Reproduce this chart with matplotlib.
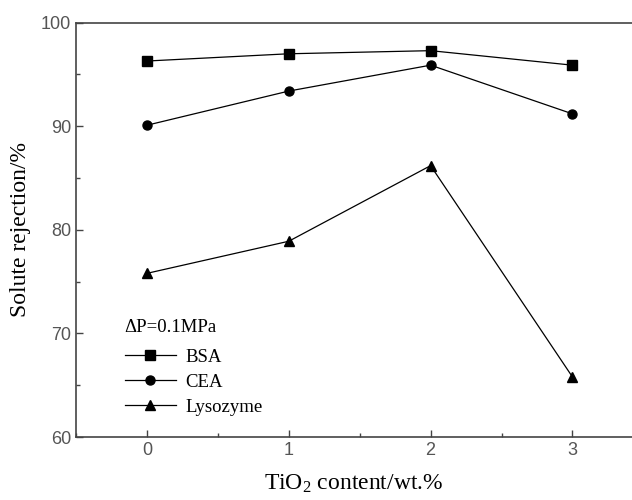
import numpy as np
import matplotlib
matplotlib.use("Agg")
import matplotlib.pyplot as plt

# data
tio2 = [0, 1, 2, 3]
bsa = [96.3, 97.0, 97.3, 95.9]
cea = [90.1, 93.4, 95.9, 91.2]
lysozyme = [75.8, 78.9, 86.2, 65.8]

plt.rcParams['mathtext.default'] = 'regular'
serif = 'Liberation Serif'
tickfont = ['Liberation Sans Narrow', 'Liberation Sans', 'DejaVu Sans']

fig = plt.figure(figsize=(6.32, 5), dpi=100)
ax = fig.add_axes([0.1203, 0.126, 0.8797, 0.8286])

ax.plot(tio2, bsa, color='black', lw=0.9, marker='s', ms=6.5, label='BSA')
ax.plot(tio2, cea, color='black', lw=0.9, marker='o', ms=6.5, label='CEA')
ax.plot(tio2, lysozyme, color='black', lw=0.9, marker='^', ms=7.5, label='Lysozyme')

ax.set_xlim(-0.5, 3.42)
ax.set_ylim(60, 100)
ax.set_xticks([0, 1, 2, 3])
ax.set_xticks([-0.5, 0.5, 1.5, 2.5], minor=True)
ax.set_yticks([60, 70, 80, 90, 100])
ax.set_yticks([65, 75, 85, 95], minor=True)
ax.tick_params(direction='in', length=5, width=1, color='#444444', labelcolor='#555555',
               labelsize=13)
ax.tick_params(which='minor', direction='in', length=3, width=1, color='#444444')
for lab in ax.get_xticklabels() + ax.get_yticklabels():
    lab.set_family(tickfont)

ax.spines['right'].set_visible(False)
for s in ['left', 'top', 'bottom']:
    ax.spines[s].set_color('#444444')
    ax.spines[s].set_linewidth(1.2)

ax.set_xlabel('TiO$_2$ content/wt.%', family=serif, fontsize=17, labelpad=10)
ax.set_ylabel('Solute rejection/%', family=serif, fontsize=17, labelpad=7)

# pressure note sits above the legend
ax.text(0.086, 0.2655, 'ΔP=0.1MPa', transform=ax.transAxes, family=serif,
        fontsize=13.5, va='center', ha='left')
leg = ax.legend(frameon=False, loc='upper left',
                bbox_to_anchor=(0.088, 0.2135), prop={'family': serif, 'size': 13.5},
                handlelength=2.7, handletextpad=0.5, labelspacing=0.43,
                borderaxespad=0, borderpad=0)

fig.savefig('out.png', dpi=100)
